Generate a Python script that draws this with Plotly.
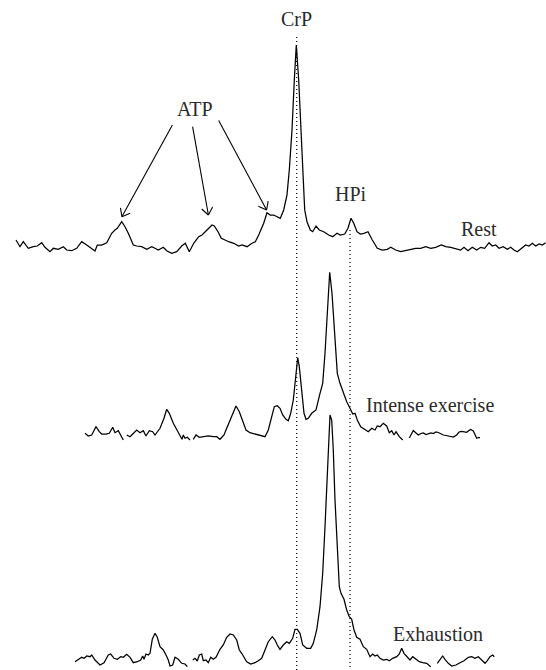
import numpy as np
import plotly.graph_objects as go

# ---- Spectra (x = horizontal position, y = vertical position, top = 0) ----
rest_x = [16, 20, 23.3, 28.3, 33.3, 37.3, 41.7, 45, 50, 53.3, 58.3, 63.3, 66.7, 71.7, 76.7, 81.7,
          86.7, 91.7, 95, 97.3, 101.7, 106.7, 111.7, 115, 117.3, 121.7, 125, 128.3, 133.3, 136.7,
          141.7, 146.7, 151.7, 155, 158.3, 163.3, 166.7, 171.7, 176.7, 181.7, 185.3, 189.3, 193.7,
          198.7, 202, 207, 212, 214.3, 218, 221.3, 224.7, 228.7, 233.7, 238.7, 242, 247, 252, 255.3,
          258.7, 263.7, 267, 270.3, 273.7, 277, 280.3, 283.7, 287, 289.3, 292, 294.3, 296.3, 298.7,
          301, 303, 304.7, 307, 310.3, 312.7, 316, 319.3, 323.7, 328.7, 332.7, 337, 340.3, 344.7,
          348, 351, 353.7, 357, 360.3, 364, 368, 372.3, 377.3, 382.3, 387.3, 390.7, 395.7, 400.7,
          405.7, 410.7, 415.7, 420.7, 425.7, 430.7, 435.7, 441.3, 445.7, 450.7, 455.7, 460.7, 464,
          468, 472.3, 476.7, 480.7, 484.7, 489, 492.3, 495.7, 499, 503.3, 507.3, 510.7, 514, 517.3,
          521.3, 525.7, 529, 532.3, 535.7, 539, 542.3, 545.7]
rest_y = [240, 246.7, 241.7, 248.3, 246.7, 246, 242.7, 247.3, 251.7, 248.3, 249.3, 246.7, 250,
          250.7, 248.3, 241.7, 245, 248.3, 251, 245, 245, 242.7, 233.3, 230, 228.3, 221.7, 226.7,
          233.3, 245, 246, 246.7, 249.3, 246.7, 248.3, 250, 247.3, 250.7, 253.3, 251.7, 246, 243.3,
          251.7, 243.3, 236.7, 235, 230, 225, 226, 231.7, 238.3, 240, 241.7, 243.3, 246, 245, 246.7,
          243.3, 241.7, 235, 223.3, 212.7, 215, 215, 216.7, 218.3, 210, 195, 170, 130, 80, 45, 80,
          136.7, 180, 210, 221.7, 230, 231.7, 226, 230, 231.7, 235, 236.7, 233.3, 235, 234, 228.3,
          218.3, 223.3, 231.7, 234, 233.3, 231.7, 240, 248.3, 250, 249.3, 247.3, 250, 251.7, 250.7,
          249.3, 248.3, 248.3, 246.7, 248.3, 247.3, 245, 246.7, 247.3, 248.3, 250, 247.3, 250.7,
          247.3, 250, 247.3, 248.3, 242.7, 246, 245, 248.3, 246.7, 249.3, 247.3, 250, 251.7, 248.3,
          245, 246, 243.3, 246, 244, 245, 242.7]

intense_x = [85, 88.3, 91.7, 96, 99.3, 101.7, 106, 109.3, 112.7, 115, 118.3, 120.7, 123.3, None,
             126.7, 130, 132.7, 136.7, 140, 143.3, 146, 149.3, 152.7, 155, 160, 164, 166.7, 169.3,
             173.3, 176.7, 180, 182, 183.3, 185, 187.3, 190, None,
             193.3, 196, 199.3, 203.3, 208.3, 213.3, 216.7, 220, 224, 226.7, 230, 233.3, 236, 239.3,
             241.7, 243.3, 246, 250, 255, 260, 265, 268.3, 271.7, 274.3, 277.3, 280, 282.7, 286,
             288.3, 290.7, 293.3, 296, 297.7, 299.3, 301.7, 304, 306, 308.3, 311.7, 316, 320, 322.7,
             325, 327.3, 329.7, 332, 334.3, 337.3, 340, 343.3, 346.7, 350, 352.7, 355, 357.3, 360.7,
             365, 368.3, 371.7, 375, 377.3, 380, 383.3, 386.7, 389.3, 391.7, 394, 396, 399.3, 402.7,
             None,
             409.3, 411.5, 413.3, 416, 418.3, 421, 423.3, 426, 428.3, 431, 433.3, 436, 438.3, 441,
             443.3, 446, 448.3, 451, 453.3, 456.7, 459, 461.7, 464, 466.7, 469, 470.7, 473.3, 475,
             476.7, 478.5, 480]
intense_y = [433.3, 436, 435, 426.7, 431.7, 434, 434, 433.3, 427.3, 432.7, 430.7, 436, 440, None,
             435, 436.7, 434, 430, 432.7, 430.7, 436, 430.7, 431.7, 435, 428.3, 418.3, 409.3, 413.3,
             423.3, 430, 435, 439.3, 435, 438.3, 437.3, 440, None,
             439.3, 435, 437.3, 436.7, 436, 436.7, 436.7, 439.3, 435, 428.3, 420, 411.7, 406, 411.7,
             418, 423.3, 430, 432.7, 434, 436, 436.7, 430, 416.7, 406.7, 405.7, 408.3, 415, 419.3,
             420.7, 413.3, 400, 370, 357.7, 366.7, 393.3, 413.3, 419.3, 418.3, 413.3, 410, 393.3,
             383.3, 353.3, 310, 272.3, 293.3, 333.3, 373.3, 383.3, 393.3, 401.7, 408.3, 414, 413.3,
             420, 426.7, 430, 431.7, 428.3, 430, 426, 426.7, 423.3, 426, 432.7, 430.7, 435, 431.7,
             436.7, 440, None,
             438, 433, 430.5, 433, 435, 433.5, 433, 434.5, 434, 433, 433.5, 432, 432.5, 434, 435,
             435.5, 436, 436.5, 437, 435, 432, 431.5, 432, 432.3, 430.5, 429.5, 431, 435, 438.3,
             437.5, 437.5]

exhaust_x = [75, 78.3, 81.7, 84.3, 86.7, 90, 91.7, 95, 100, 104, 108.3, 110.7, 114, 117.3, 120.7,
             123.3, 126.7, 130, 133.3, 137.3, 140.7, 142.7, 144, 146, 148.3, 150, 152.3, 155, 157.3,
             160, 163.3, 166, 168.3, 170, 172.7, 175, 178.3, 181.7, 185, 187.3, None,
             192.7, 195, 197.3, 199.3, 201.7, 203.3, 206, 208.3, 210.7, 213.3, 216, 220, 223.3,
             226.7, 230, 233.3, 236.7, 239.3, 241.7, 244, 246.7, 250.7, 255, 258.3, 261.7, 265,
             268.3, 272.3, 275, 277.3, 280, 283.3, 286.7, 289.3, 292.7, 295, 297.3, 300, 302.7,
             306.7, 310.7, 313.3, 316.7, 320, 322.7, 325, 326.7, 328.3, 330, 331.7, 333.3, 335,
             337.3, 339.3, 341, 344, 346.7, 349.3, 351.7, 354, 356.7, 360, 363.3, 366.7, 370, 372.7,
             375, 377.3, 380, 383.3, 386.7, 389.3, 392.7, 396.7, 399.3, 401.7, 404, 406.7, 410,
             412.7, 416, 419.3, 422.7, 426.7, 430.7, None,
             437.3, 440, 442.7, 445, 448.3, 451.7, 456, 460, 464, 468.3, 471.7, 475, 478.3, 481.7,
             485, 487.3, 490, 492.7, 494.3]
exhaust_y = [661.7, 659.3, 657.3, 658.3, 656, 656.7, 655, 660, 665, 662.7, 655, 654, 658.3, 659.3,
             656.7, 657.3, 654.3, 657.3, 662.7, 661.7, 660, 656, 659.3, 654, 655, 653.3, 639.3,
             633.3, 637.3, 646.7, 650, 655, 660, 666, 665, 657.3, 659.3, 663.3, 664, 666.7, None,
             660, 658.3, 661, 655, 654, 660.7, 660, 662.7, 657.3, 659.3, 657.3, 649.3, 645, 637.3,
             634, 635, 640, 650, 653.3, 656.7, 661.7, 664, 662.7, 660.7, 658.3, 650, 641.7, 636.7,
             640, 645, 649.3, 645, 641.7, 643.3, 638.3, 629.3, 629.3, 633.3, 645, 648.3, 648.3,
             643.3, 630, 606.7, 573.3, 526.7, 483.3, 440, 415, 420, 450, 500, 550, 586.7, 593.3,
             599.3, 610, 616.7, 619.3, 630, 637.3, 639.3, 646.7, 649.3, 656.7, 654, 656, 655, 658.3,
             660, 659.3, 660.7, 658.3, 656.7, 654, 648.3, 653.3, 656.7, 660, 656.7, 659.3, 661.7,
             662.7, 663.3, 666.7, None,
             663.3, 659.3, 656, 659.3, 663.3, 666, 665, 662.7, 660.7, 657.3, 656.7, 658.3, 656.7,
             660, 663.3, 660.7, 656.7, 655, 656.7]

# ---- Reference lines (peak positions) ----
crp_pos = 296.7
hpi_pos = 350.0
crp_line_top = 37
hpi_line_top = 230

# ---- ATP arrows (tail near label, tip at peaks) ----
atp_tail_x = [172.4, 192.6, 218.7]
atp_tail_y = [125.0, 126.7, 120.5]
atp_tip_x = [121.9, 208.4, 266.6]
atp_tip_y = [216.7, 215.0, 210.0]

# ---- Labels ----
label_text = ["CrP", "ATP", "HPi", "Rest", "Intense exercise", "Exhaustion"]
label_x = [296.7, 195.0, 350.8, 479.0, 429.5, 437.5]
label_y = [19.0, 108.5, 194.0, 228.5, 405.0, 633.5]

W, H = 546, 670
INK = "black"
TEXT = "#2b2b2b"

fig = go.Figure()

for xs, ys in [(rest_x, rest_y), (intense_x, intense_y), (exhaust_x, exhaust_y)]:
    fig.add_trace(go.Scatter(x=xs, y=ys, mode="lines", connectgaps=False,
                             line=dict(color=INK, width=1.25), hoverinfo="skip"))

# arrows: shafts plus open V heads derived from arrow direction
ax_, ay_ = [], []
head_len, head_ang = 9.0, np.radians(38)
for tx, ty, hx, hy in zip(atp_tail_x, atp_tail_y, atp_tip_x, atp_tip_y):
    ax_ += [tx, hx, None]
    ay_ += [ty, hy, None]
    ang = np.arctan2(ty - hy, tx - hx)
    for s in (-1, 1):
        ax_ += [hx + head_len * np.cos(ang + s * head_ang), hx, None]
        ay_ += [hy + head_len * np.sin(ang + s * head_ang), hy, None]
fig.add_trace(go.Scatter(x=ax_, y=ay_, mode="lines", connectgaps=False,
                         line=dict(color=INK, width=1.1), hoverinfo="skip"))

for xpos, ytop in [(crp_pos, crp_line_top), (hpi_pos, hpi_line_top)]:
    fig.add_shape(type="line", x0=xpos, x1=xpos, y0=ytop, y1=H, xref="x", yref="y",
                  line=dict(color=INK, width=1.2, dash="1px,3px"))

for t, x, y in zip(label_text, label_x, label_y):
    fig.add_annotation(x=x, y=y, text=t, showarrow=False, xref="x", yref="y",
                       xanchor="center", yanchor="middle",
                       font=dict(family="Liberation Serif, Times New Roman, serif", size=20, color=TEXT))

fig.update_layout(width=W, height=H, margin=dict(l=0, r=0, t=0, b=0),
                  paper_bgcolor="white", plot_bgcolor="white", showlegend=False,
                  xaxis=dict(range=[0, W], visible=False, fixedrange=True),
                  yaxis=dict(range=[H, 0], visible=False, fixedrange=True))

fig.write_html("out.html", config={"displayModeBar": False},
               post_script="document.body.style.margin='0';document.body.style.overflow='hidden';")
